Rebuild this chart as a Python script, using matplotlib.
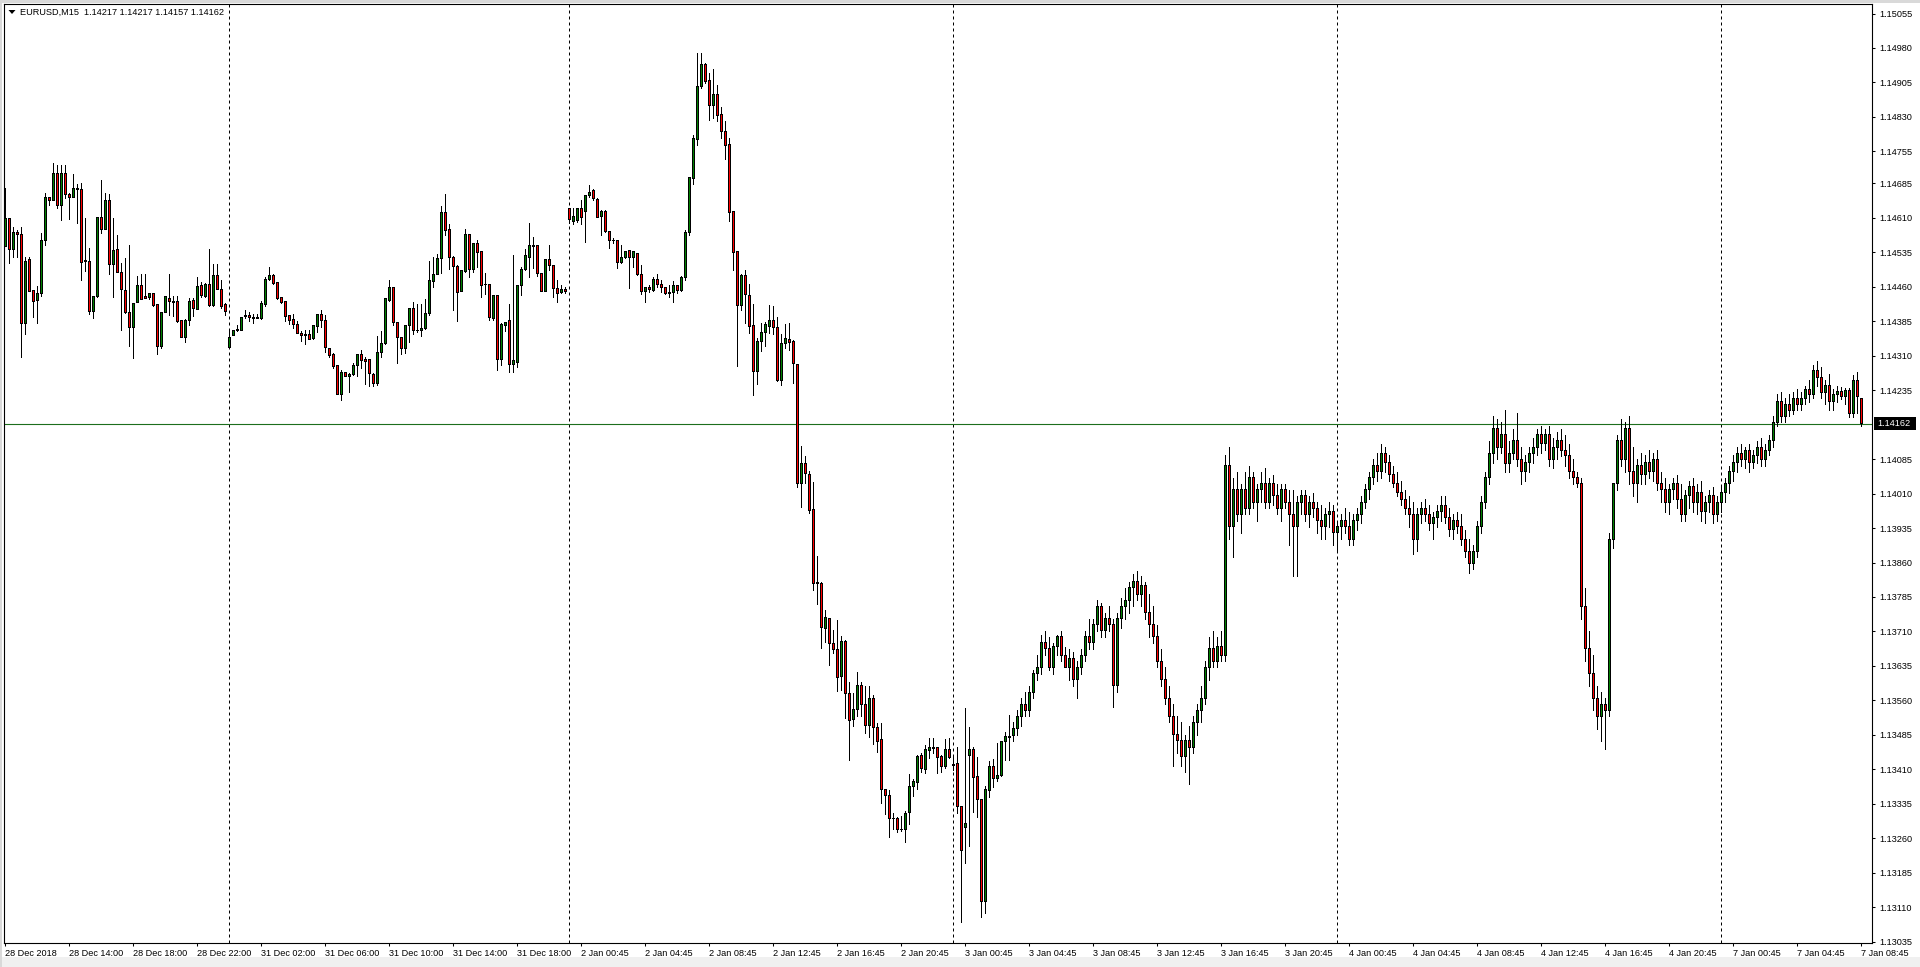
import numpy as np
import matplotlib
matplotlib.use("Agg")
import matplotlib.pyplot as plt
from matplotlib.patches import Rectangle, Polygon

plt.rcParams['font.family'] = ['Liberation Sans', 'DejaVu Sans']

# ---------------- data ----------------
symbol = "EURUSD,M15"
# trading sessions shown on the chart: (day, number of 15-minute bars)
sessions = [("28 Dec", 56), ("31 Dec", 85), ("2 Jan", 96), ("3 Jan", 96), ("4 Jan", 96), ("7 Jan", 36)]

time_label_step = 16
time_labels = ["28 Dec 2018", "28 Dec 14:00", "28 Dec 18:00", "28 Dec 22:00", "31 Dec 02:00",
               "31 Dec 06:00", "31 Dec 10:00", "31 Dec 14:00", "31 Dec 18:00", "2 Jan 00:45",
               "2 Jan 04:45", "2 Jan 08:45", "2 Jan 12:45", "2 Jan 16:45", "2 Jan 20:45",
               "3 Jan 00:45", "3 Jan 04:45", "3 Jan 08:45", "3 Jan 12:45", "3 Jan 16:45",
               "3 Jan 20:45", "4 Jan 00:45", "4 Jan 04:45", "4 Jan 08:45", "4 Jan 12:45",
               "4 Jan 16:45", "4 Jan 20:45", "7 Jan 00:45", "7 Jan 04:45", "7 Jan 08:45"]

price_labels = ["1.15055", "1.14980", "1.14905", "1.14830", "1.14755", "1.14685", "1.14610",
                "1.14535", "1.14460", "1.14385", "1.14310", "1.14235", "1.14085", "1.14010",
                "1.13935", "1.13860", "1.13785", "1.13710", "1.13635", "1.13560", "1.13485",
                "1.13410", "1.13335", "1.13260", "1.13185", "1.13110", "1.13035"]

opens = [
    1.14548, 1.14609, 1.14542, 1.14579, 1.14574, 1.14381, 1.14519, 1.14453, 1.14430, 1.14445,
    1.14560, 1.14655, 1.14649, 1.14707, 1.14637, 1.14707, 1.14662, 1.14655, 1.14675, 1.14672,
    1.14517, 1.14516, 1.14406, 1.14439, 1.14611, 1.14585, 1.14647, 1.14508, 1.14542, 1.14492,
    1.14453, 1.14404, 1.14372, 1.14426, 1.14462, 1.14439, 1.14437, 1.14446, 1.14421, 1.14330,
    1.14405, 1.14435, 1.14429, 1.14429, 1.14386, 1.14350, 1.14386, 1.14431, 1.14411, 1.14462,
    1.14440, 1.14466, 1.14419, 1.14484, 1.14455, 1.14421, 1.14328, 1.14355, 1.14364, 1.14366,
    1.14395, 1.14397, 1.14394, 1.14394, 1.14392, 1.14422, 1.14475, 1.14484, 1.14470, 1.14437,
    1.14428, 1.14397, 1.14388, 1.14378, 1.14359, 1.14357, 1.14357, 1.14347, 1.14373, 1.14399,
    1.14386, 1.14326, 1.14312, 1.14288, 1.14225, 1.14274, 1.14265, 1.14270, 1.14289, 1.14312,
    1.14301, 1.14301, 1.14270, 1.14250, 1.14318, 1.14337, 1.14430, 1.14459, 1.14383, 1.14350,
    1.14325, 1.14375, 1.14412, 1.14365, 1.14365, 1.14370, 1.14401, 1.14471, 1.14487, 1.14522,
    1.14622, 1.14584, 1.14524, 1.14504, 1.14450, 1.14493, 1.14573, 1.14498, 1.14555, 1.14538,
    1.14466, 1.14466, 1.14391, 1.14442, 1.14301, 1.14375, 1.14386, 1.14290, 1.14295, 1.14464,
    1.14497, 1.14524, 1.14549, 1.14549, 1.14490, 1.14450, 1.14519, 1.14506, 1.14457, 1.14447,
    1.14455, 1.14631, 1.14602, 1.14604, 1.14631, 1.14624, 1.14659, 1.14669, 1.14651, 1.14613,
    1.14625, 1.14581, 1.14562, 1.14562, 1.14513, 1.14523, 1.14540, 1.14524, 1.14533, 1.14487,
    1.14450, 1.14459, 1.14452, 1.14477, 1.14465, 1.14459, 1.14446, 1.14448, 1.14462, 1.14452,
    1.14480, 1.14579, 1.14696, 1.14781, 1.14896, 1.14943, 1.14910, 1.14854, 1.14878, 1.14836,
    1.14799, 1.14769, 1.14625, 1.14536, 1.14419, 1.14484, 1.14442, 1.14375, 1.14275, 1.14342,
    1.14360, 1.14373, 1.14387, 1.14372, 1.14257, 1.14336, 1.14346, 1.14342, 1.14291, 1.14031,
    1.14076, 1.14052, 1.13976, 1.13815, 1.13815, 1.13717, 1.13739, 1.13684, 1.13671, 1.13611,
    1.13689, 1.13574, 1.13519, 1.13539, 1.13592, 1.13551, 1.13505, 1.13564, 1.13501, 1.13474,
    1.13366, 1.13352, 1.13303, 1.13302, 1.13279, 1.13279, 1.13315, 1.13372, 1.13381, 1.13439,
    1.13410, 1.13450, 1.13458, 1.13457, 1.13437, 1.13415, 1.13454, 1.13421, 1.13423, 1.13330,
    1.13283, 1.13439, 1.13454, 1.13394, 1.13345, 1.13122, 1.13363, 1.13417, 1.13390, 1.13396,
    1.13470, 1.13482, 1.13483, 1.13498, 1.13525, 1.13552, 1.13538, 1.13578, 1.13618, 1.13632,
    1.13685, 1.13672, 1.13632, 1.13677, 1.13698, 1.13658, 1.13632, 1.13650, 1.13605, 1.13632,
    1.13658, 1.13698, 1.13685, 1.13725, 1.13765, 1.13711, 1.13738, 1.13725, 1.13592, 1.13738,
    1.13765, 1.13778, 1.13805, 1.13818, 1.13791, 1.13811, 1.13751, 1.13725, 1.13698, 1.13645,
    1.13605, 1.13565, 1.13525, 1.13485, 1.13472, 1.13437, 1.13472, 1.13458, 1.13512, 1.13538,
    1.13565, 1.13632, 1.13672, 1.13645, 1.13677, 1.13658, 1.14071, 1.13938, 1.14018, 1.13965,
    1.14018, 1.13978, 1.14045, 1.13991, 1.14018, 1.14031, 1.13991, 1.14031, 1.14005, 1.13978,
    1.14018, 1.13991, 1.13965, 1.13938, 1.13991, 1.14005, 1.13965, 1.13991, 1.13978, 1.13951,
    1.13938, 1.13965, 1.13971, 1.13925, 1.13938, 1.13951, 1.13938, 1.13911, 1.13951, 1.13965,
    1.13991, 1.14018, 1.14045, 1.14071, 1.14058, 1.14098, 1.14078, 1.14051, 1.14031, 1.14012,
    1.13998, 1.13978, 1.13965, 1.13911, 1.13965, 1.13978, 1.13965, 1.13945, 1.13958, 1.13971,
    1.13985, 1.13958, 1.13931, 1.13951, 1.13938, 1.13911, 1.13885, 1.13858, 1.13885, 1.13938,
    1.13991, 1.14045, 1.14098, 1.14151, 1.14111, 1.14138, 1.14076, 1.14098, 1.14125, 1.14085,
    1.14058, 1.14078, 1.14098, 1.14111, 1.14138, 1.14118, 1.14138, 1.14085, 1.14111, 1.14125,
    1.14104, 1.14093, 1.14058, 1.14045, 1.14031, 1.13765, 1.13672, 1.13618, 1.13565, 1.13525,
    1.13552, 1.13538, 1.13911, 1.14031, 1.14125, 1.14085, 1.14151, 1.14058, 1.14031, 1.14071,
    1.14051, 1.14078, 1.14058, 1.14085, 1.14031, 1.14018, 1.13991, 1.14018, 1.14031, 1.13998,
    1.13965, 1.14005, 1.14025, 1.13991, 1.14012, 1.13971, 1.13991, 1.14005, 1.13965, 1.13991,
    1.14012, 1.14031, 1.14058, 1.14078, 1.14098, 1.14085, 1.14104, 1.14078, 1.14093, 1.14111,
    1.14085, 1.14104, 1.14125, 1.14165, 1.14210, 1.14178, 1.14205, 1.14191, 1.14218, 1.14205,
    1.14218, 1.14237, 1.14226, 1.14279, 1.14263, 1.14231, 1.14245, 1.14210, 1.14226, 1.14232,
    1.14221, 1.14235, 1.14185, 1.14257, 1.14217]

highs = [
    1.14675, 1.14609, 1.14590, 1.14584, 1.14590, 1.14524, 1.14524, 1.14453, 1.14462, 1.14578,
    1.14665, 1.14656, 1.14729, 1.14725, 1.14725, 1.14725, 1.14665, 1.14706, 1.14683, 1.14685,
    1.14609, 1.14544, 1.14439, 1.14613, 1.14693, 1.14664, 1.14662, 1.14609, 1.14573, 1.14511,
    1.14522, 1.14551, 1.14424, 1.14484, 1.14487, 1.14487, 1.14446, 1.14446, 1.14421, 1.14406,
    1.14438, 1.14487, 1.14441, 1.14441, 1.14388, 1.14389, 1.14435, 1.14435, 1.14482, 1.14471,
    1.14469, 1.14543, 1.14509, 1.14509, 1.14475, 1.14424, 1.14363, 1.14366, 1.14376, 1.14394,
    1.14410, 1.14405, 1.14402, 1.14402, 1.14430, 1.14482, 1.14503, 1.14487, 1.14470, 1.14439,
    1.14428, 1.14397, 1.14401, 1.14386, 1.14364, 1.14366, 1.14367, 1.14375, 1.14400, 1.14410,
    1.14399, 1.14326, 1.14315, 1.14288, 1.14279, 1.14274, 1.14272, 1.14295, 1.14312, 1.14323,
    1.14307, 1.14304, 1.14272, 1.14354, 1.14364, 1.14434, 1.14475, 1.14459, 1.14383, 1.14350,
    1.14375, 1.14413, 1.14426, 1.14423, 1.14423, 1.14434, 1.14516, 1.14524, 1.14532, 1.14636,
    1.14662, 1.14597, 1.14527, 1.14508, 1.14495, 1.14586, 1.14573, 1.14555, 1.14562, 1.14538,
    1.14490, 1.14466, 1.14442, 1.14442, 1.14382, 1.14383, 1.14422, 1.14529, 1.14464, 1.14504,
    1.14542, 1.14600, 1.14569, 1.14549, 1.14490, 1.14519, 1.14551, 1.14506, 1.14475, 1.14464,
    1.14459, 1.14631, 1.14631, 1.14631, 1.14649, 1.14658, 1.14682, 1.14673, 1.14653, 1.14627,
    1.14627, 1.14581, 1.14566, 1.14562, 1.14551, 1.14538, 1.14540, 1.14537, 1.14533, 1.14508,
    1.14459, 1.14464, 1.14481, 1.14489, 1.14475, 1.14460, 1.14464, 1.14473, 1.14462, 1.14484,
    1.14584, 1.14700, 1.14791, 1.14968, 1.14968, 1.14947, 1.14926, 1.14934, 1.14899, 1.14852,
    1.14821, 1.14783, 1.14625, 1.14536, 1.14488, 1.14496, 1.14466, 1.14423, 1.14348, 1.14381,
    1.14384, 1.14421, 1.14418, 1.14394, 1.14357, 1.14379, 1.14382, 1.14344, 1.14291, 1.14114,
    1.14092, 1.14059, 1.14036, 1.13874, 1.13818, 1.13757, 1.13739, 1.13713, 1.13735, 1.13700,
    1.13691, 1.13601, 1.13577, 1.13622, 1.13601, 1.13592, 1.13591, 1.13572, 1.13510, 1.13510,
    1.13368, 1.13365, 1.13314, 1.13307, 1.13308, 1.13320, 1.13400, 1.13388, 1.13442, 1.13446,
    1.13463, 1.13479, 1.13477, 1.13459, 1.13441, 1.13475, 1.13479, 1.13436, 1.13459, 1.13330,
    1.13543, 1.13503, 1.13458, 1.13437, 1.13345, 1.13374, 1.13429, 1.13432, 1.13468, 1.13471,
    1.13492, 1.13528, 1.13512, 1.13538, 1.13565, 1.13578, 1.13592, 1.13627, 1.13658, 1.13703,
    1.13711, 1.13698, 1.13685, 1.13703, 1.13711, 1.13677, 1.13672, 1.13666, 1.13645, 1.13672,
    1.13711, 1.13738, 1.13738, 1.13778, 1.13772, 1.13751, 1.13765, 1.13738, 1.13751, 1.13783,
    1.13805, 1.13818, 1.13836, 1.13841, 1.13831, 1.13818, 1.13791, 1.13765, 1.13725, 1.13672,
    1.13632, 1.13592, 1.13552, 1.13525, 1.13512, 1.13485, 1.13505, 1.13525, 1.13552, 1.13592,
    1.13645, 1.13698, 1.13711, 1.13698, 1.13711, 1.14093, 1.14111, 1.14045, 1.14058, 1.14031,
    1.14058, 1.14071, 1.14058, 1.14031, 1.14058, 1.14065, 1.14045, 1.14050, 1.14031, 1.14031,
    1.14031, 1.14018, 1.14018, 1.14005, 1.14018, 1.14018, 1.14005, 1.14012, 1.13991, 1.13985,
    1.13978, 1.13991, 1.13985, 1.13951, 1.13965, 1.13978, 1.13971, 1.13965, 1.13978, 1.14005,
    1.14031, 1.14058, 1.14085, 1.14098, 1.14118, 1.14111, 1.14093, 1.14071, 1.14058, 1.14038,
    1.14018, 1.14005, 1.13991, 1.13978, 1.13991, 1.13998, 1.13985, 1.13971, 1.13985, 1.14005,
    1.14005, 1.13978, 1.13965, 1.13971, 1.13965, 1.13931, 1.13911, 1.13898, 1.13951, 1.14005,
    1.14058, 1.14125, 1.14178, 1.14173, 1.14165, 1.14191, 1.14125, 1.14151, 1.14185, 1.14111,
    1.14093, 1.14111, 1.14131, 1.14151, 1.14158, 1.14151, 1.14158, 1.14131, 1.14145, 1.14151,
    1.14138, 1.14118, 1.14085, 1.14058, 1.14045, 1.13805, 1.13711, 1.13658, 1.13592, 1.13578,
    1.13565, 1.13925, 1.14031, 1.14138, 1.14173, 1.14165, 1.14178, 1.14111, 1.14085, 1.14098,
    1.14093, 1.14104, 1.14098, 1.14104, 1.14058, 1.14045, 1.14031, 1.14045, 1.14050, 1.14031,
    1.14018, 1.14038, 1.14045, 1.14031, 1.14038, 1.14005, 1.14018, 1.14025, 1.14005, 1.14025,
    1.14045, 1.14071, 1.14093, 1.14111, 1.14118, 1.14111, 1.14118, 1.14104, 1.14125, 1.14131,
    1.14118, 1.14138, 1.14178, 1.14226, 1.14231, 1.14218, 1.14226, 1.14231, 1.14237, 1.14231,
    1.14245, 1.14258, 1.14290, 1.14298, 1.14285, 1.14258, 1.14271, 1.14237, 1.14245, 1.14243,
    1.14239, 1.14239, 1.14268, 1.14275, 1.14217]

lows = [
    1.14548, 1.14511, 1.14526, 1.14524, 1.14308, 1.14357, 1.14450, 1.14395, 1.14382, 1.14441,
    1.14551, 1.14638, 1.14649, 1.14632, 1.14606, 1.14653, 1.14608, 1.14655, 1.14598, 1.14474,
    1.14495, 1.14400, 1.14393, 1.14439, 1.14578, 1.14585, 1.14487, 1.14439, 1.14492, 1.14366,
    1.14404, 1.14332, 1.14305, 1.14426, 1.14433, 1.14435, 1.14433, 1.14419, 1.14313, 1.14326,
    1.14405, 1.14399, 1.14397, 1.14384, 1.14350, 1.14341, 1.14377, 1.14397, 1.14411, 1.14439,
    1.14439, 1.14419, 1.14419, 1.14455, 1.14415, 1.14399, 1.14326, 1.14355, 1.14363, 1.14366,
    1.14392, 1.14386, 1.14381, 1.14392, 1.14390, 1.14418, 1.14474, 1.14466, 1.14433, 1.14424,
    1.14386, 1.14379, 1.14370, 1.14359, 1.14342, 1.14335, 1.14346, 1.14347, 1.14362, 1.14373,
    1.14318, 1.14308, 1.14284, 1.14226, 1.14214, 1.14265, 1.14232, 1.14268, 1.14267, 1.14283,
    1.14249, 1.14244, 1.14244, 1.14246, 1.14308, 1.14335, 1.14430, 1.14376, 1.14294, 1.14314,
    1.14317, 1.14341, 1.14357, 1.14362, 1.14354, 1.14368, 1.14399, 1.14460, 1.14487, 1.14491,
    1.14573, 1.14498, 1.14410, 1.14386, 1.14450, 1.14493, 1.14482, 1.14493, 1.14503, 1.14439,
    1.14445, 1.14388, 1.14388, 1.14279, 1.14290, 1.14365, 1.14275, 1.14275, 1.14285, 1.14442,
    1.14497, 1.14481, 1.14500, 1.14484, 1.14450, 1.14450, 1.14497, 1.14439, 1.14426, 1.14446,
    1.14447, 1.14600, 1.14597, 1.14602, 1.14597, 1.14558, 1.14656, 1.14648, 1.14611, 1.14573,
    1.14580, 1.14545, 1.14555, 1.14502, 1.14513, 1.14522, 1.14458, 1.14504, 1.14486, 1.14445,
    1.14428, 1.14448, 1.14452, 1.14460, 1.14448, 1.14444, 1.14439, 1.14428, 1.14446, 1.14452,
    1.14475, 1.14573, 1.14684, 1.14769, 1.14892, 1.14904, 1.14823, 1.14827, 1.14820, 1.14785,
    1.14738, 1.14603, 1.14497, 1.14288, 1.14410, 1.14381, 1.14359, 1.14225, 1.14249, 1.14321,
    1.14331, 1.14359, 1.14357, 1.14256, 1.14246, 1.14328, 1.14323, 1.14251, 1.14025, 1.13980,
    1.14034, 1.13968, 1.13800, 1.13769, 1.13675, 1.13686, 1.13638, 1.13662, 1.13581, 1.13582,
    1.13521, 1.13430, 1.13504, 1.13526, 1.13526, 1.13488, 1.13480, 1.13466, 1.13448, 1.13336,
    1.13312, 1.13263, 1.13279, 1.13274, 1.13276, 1.13251, 1.13291, 1.13352, 1.13367, 1.13405,
    1.13402, 1.13435, 1.13446, 1.13401, 1.13405, 1.13412, 1.13435, 1.13408, 1.13315, 1.13078,
    1.13207, 1.13244, 1.13318, 1.13307, 1.13089, 1.13098, 1.13349, 1.13371, 1.13385, 1.13396,
    1.13430, 1.13430, 1.13472, 1.13485, 1.13505, 1.13525, 1.13525, 1.13565, 1.13605, 1.13618,
    1.13658, 1.13626, 1.13618, 1.13658, 1.13645, 1.13632, 1.13605, 1.13592, 1.13565, 1.13618,
    1.13645, 1.13672, 1.13672, 1.13711, 1.13698, 1.13698, 1.13711, 1.13545, 1.13578, 1.13718,
    1.13738, 1.13751, 1.13765, 1.13778, 1.13765, 1.13738, 1.13698, 1.13685, 1.13632, 1.13592,
    1.13552, 1.13512, 1.13418, 1.13445, 1.13418, 1.13405, 1.13378, 1.13445, 1.13485, 1.13512,
    1.13552, 1.13605, 1.13632, 1.13632, 1.13645, 1.13645, 1.13911, 1.13871, 1.13951, 1.13925,
    1.13965, 1.13965, 1.13978, 1.13951, 1.13991, 1.13978, 1.13978, 1.13985, 1.13965, 1.13951,
    1.13978, 1.13898, 1.13831, 1.13831, 1.13965, 1.13951, 1.13938, 1.13958, 1.13925, 1.13911,
    1.13911, 1.13938, 1.13898, 1.13885, 1.13911, 1.13925, 1.13898, 1.13898, 1.13931, 1.13945,
    1.13978, 1.13998, 1.14031, 1.14038, 1.14045, 1.14058, 1.14038, 1.14025, 1.14005, 1.13985,
    1.13965, 1.13938, 1.13878, 1.13885, 1.13945, 1.13951, 1.13931, 1.13911, 1.13938, 1.13951,
    1.13945, 1.13918, 1.13911, 1.13925, 1.13898, 1.13871, 1.13838, 1.13845, 1.13871, 1.13925,
    1.13978, 1.14031, 1.14076, 1.14085, 1.14098, 1.14058, 1.14058, 1.14085, 1.14071, 1.14031,
    1.14038, 1.14058, 1.14076, 1.14093, 1.14098, 1.14104, 1.14071, 1.14065, 1.14085, 1.14091,
    1.14071, 1.14045, 1.14031, 1.14025, 1.13738, 1.13645, 1.13592, 1.13538, 1.13498, 1.13472,
    1.13453, 1.13525, 1.13891, 1.14018, 1.14071, 1.14058, 1.14031, 1.14005, 1.13991, 1.14031,
    1.14031, 1.14045, 1.14038, 1.14018, 1.13991, 1.13971, 1.13965, 1.13998, 1.13978, 1.13951,
    1.13951, 1.13978, 1.13971, 1.13965, 1.13951, 1.13945, 1.13971, 1.13945, 1.13951, 1.13971,
    1.13991, 1.14012, 1.14038, 1.14058, 1.14071, 1.14065, 1.14058, 1.14065, 1.14076, 1.14071,
    1.14071, 1.14093, 1.14111, 1.14158, 1.14165, 1.14165, 1.14178, 1.14183, 1.14191, 1.14191,
    1.14205, 1.14210, 1.14218, 1.14245, 1.14218, 1.14205, 1.14191, 1.14191, 1.14210, 1.14217,
    1.14206, 1.14177, 1.14177, 1.14185, 1.14157]

closes = [
    1.14609, 1.14542, 1.14579, 1.14574, 1.14381, 1.14516, 1.14450, 1.14428, 1.14446, 1.14560,
    1.14655, 1.14649, 1.14707, 1.14637, 1.14707, 1.14661, 1.14655, 1.14675, 1.14672, 1.14513,
    1.14515, 1.14406, 1.14439, 1.14611, 1.14585, 1.14649, 1.14509, 1.14540, 1.14492, 1.14455,
    1.14404, 1.14372, 1.14424, 1.14462, 1.14433, 1.14435, 1.14446, 1.14419, 1.14330, 1.14405,
    1.14438, 1.14428, 1.14427, 1.14384, 1.14350, 1.14386, 1.14429, 1.14413, 1.14460, 1.14442,
    1.14466, 1.14419, 1.14484, 1.14455, 1.14418, 1.14406, 1.14350, 1.14364, 1.14368, 1.14394,
    1.14397, 1.14393, 1.14392, 1.14392, 1.14424, 1.14476, 1.14485, 1.14468, 1.14435, 1.14426,
    1.14395, 1.14386, 1.14379, 1.14359, 1.14354, 1.14354, 1.14346, 1.14375, 1.14400, 1.14386,
    1.14328, 1.14310, 1.14286, 1.14226, 1.14274, 1.14265, 1.14270, 1.14289, 1.14312, 1.14300,
    1.14297, 1.14272, 1.14250, 1.14318, 1.14337, 1.14434, 1.14459, 1.14383, 1.14350, 1.14325,
    1.14375, 1.14413, 1.14365, 1.14366, 1.14370, 1.14401, 1.14473, 1.14487, 1.14522, 1.14622,
    1.14582, 1.14524, 1.14504, 1.14448, 1.14495, 1.14575, 1.14497, 1.14555, 1.14535, 1.14463,
    1.14465, 1.14393, 1.14442, 1.14301, 1.14379, 1.14383, 1.14290, 1.14300, 1.14464, 1.14497,
    1.14529, 1.14549, 1.14548, 1.14488, 1.14450, 1.14519, 1.14506, 1.14457, 1.14446, 1.14455,
    1.14450, 1.14606, 1.14613, 1.14631, 1.14611, 1.14658, 1.14666, 1.14653, 1.14611, 1.14625,
    1.14580, 1.14561, 1.14560, 1.14513, 1.14524, 1.14538, 1.14524, 1.14536, 1.14487, 1.14450,
    1.14459, 1.14455, 1.14477, 1.14465, 1.14459, 1.14446, 1.14448, 1.14462, 1.14451, 1.14481,
    1.14579, 1.14698, 1.14782, 1.14897, 1.14943, 1.14908, 1.14854, 1.14878, 1.14834, 1.14798,
    1.14767, 1.14622, 1.14534, 1.14419, 1.14484, 1.14443, 1.14373, 1.14275, 1.14342, 1.14361,
    1.14377, 1.14386, 1.14371, 1.14257, 1.14336, 1.14348, 1.14339, 1.14293, 1.14031, 1.14076,
    1.14054, 1.13973, 1.13815, 1.13817, 1.13718, 1.13740, 1.13684, 1.13671, 1.13610, 1.13689,
    1.13575, 1.13516, 1.13539, 1.13592, 1.13550, 1.13505, 1.13564, 1.13501, 1.13470, 1.13366,
    1.13352, 1.13303, 1.13302, 1.13279, 1.13278, 1.13314, 1.13373, 1.13384, 1.13437, 1.13412,
    1.13453, 1.13458, 1.13455, 1.13436, 1.13415, 1.13454, 1.13436, 1.13418, 1.13330, 1.13234,
    1.13292, 1.13454, 1.13392, 1.13344, 1.13122, 1.13366, 1.13417, 1.13390, 1.13397, 1.13471,
    1.13482, 1.13479, 1.13498, 1.13525, 1.13552, 1.13538, 1.13578, 1.13618, 1.13632, 1.13685,
    1.13672, 1.13632, 1.13677, 1.13698, 1.13658, 1.13632, 1.13650, 1.13605, 1.13632, 1.13658,
    1.13698, 1.13685, 1.13725, 1.13765, 1.13711, 1.13738, 1.13725, 1.13592, 1.13738, 1.13765,
    1.13778, 1.13805, 1.13818, 1.13791, 1.13811, 1.13751, 1.13725, 1.13698, 1.13645, 1.13605,
    1.13565, 1.13525, 1.13485, 1.13472, 1.13437, 1.13472, 1.13458, 1.13512, 1.13538, 1.13565,
    1.13632, 1.13672, 1.13645, 1.13677, 1.13658, 1.14071, 1.13938, 1.14018, 1.13965, 1.14018,
    1.13978, 1.14045, 1.13991, 1.14018, 1.14031, 1.13991, 1.14031, 1.14005, 1.13978, 1.14018,
    1.13991, 1.13965, 1.13938, 1.13991, 1.14005, 1.13965, 1.13991, 1.13978, 1.13951, 1.13938,
    1.13965, 1.13971, 1.13925, 1.13938, 1.13951, 1.13938, 1.13911, 1.13951, 1.13965, 1.13991,
    1.14018, 1.14045, 1.14071, 1.14058, 1.14098, 1.14078, 1.14051, 1.14031, 1.14012, 1.13998,
    1.13978, 1.13965, 1.13911, 1.13965, 1.13978, 1.13965, 1.13945, 1.13958, 1.13971, 1.13985,
    1.13958, 1.13931, 1.13951, 1.13938, 1.13911, 1.13885, 1.13858, 1.13885, 1.13938, 1.13991,
    1.14045, 1.14098, 1.14151, 1.14111, 1.14138, 1.14076, 1.14098, 1.14125, 1.14085, 1.14058,
    1.14078, 1.14098, 1.14111, 1.14138, 1.14118, 1.14138, 1.14085, 1.14111, 1.14125, 1.14104,
    1.14093, 1.14058, 1.14045, 1.14031, 1.13765, 1.13672, 1.13618, 1.13565, 1.13525, 1.13552,
    1.13538, 1.13911, 1.14031, 1.14125, 1.14085, 1.14151, 1.14058, 1.14031, 1.14071, 1.14051,
    1.14078, 1.14058, 1.14085, 1.14031, 1.14018, 1.13991, 1.14018, 1.14031, 1.13998, 1.13965,
    1.14005, 1.14025, 1.13991, 1.14012, 1.13971, 1.13991, 1.14005, 1.13965, 1.13991, 1.14012,
    1.14031, 1.14058, 1.14078, 1.14098, 1.14085, 1.14104, 1.14078, 1.14093, 1.14111, 1.14085,
    1.14104, 1.14125, 1.14165, 1.14210, 1.14178, 1.14205, 1.14191, 1.14218, 1.14205, 1.14218,
    1.14237, 1.14226, 1.14279, 1.14263, 1.14231, 1.14245, 1.14210, 1.14226, 1.14232, 1.14221,
    1.14235, 1.14185, 1.14257, 1.14221, 1.14162]

# ---------------- style ----------------
BULL = "#008000"
BEAR = "#ff0000"
BID_COLOR = "#1d6e1d"
FS = 6.6

W, H = 1920, 967
fig = plt.figure(figsize=(W / 100, H / 100), dpi=100, facecolor="white")
# MT4-like window edges
fig.patches.append(Rectangle((0, 0), 1, 10 / H, transform=fig.transFigure,
                             fc="#f0f0f0", ec="none", zorder=0))
fig.patches.append(Rectangle((0, 1 - 3 / H), 1, 3 / H, transform=fig.transFigure,
                             fc="#d9d9d9", ec="none", zorder=0))
fig.patches.append(Rectangle((0, 0), 2 / W, 1, transform=fig.transFigure,
                             fc="#d9d9d9", ec="none", zorder=0))

left_px, right_px, top_px, bot_px = 4, 1872, 4, 943
ax = fig.add_axes([left_px / W, (H - bot_px) / H, (right_px - left_px) / W, (bot_px - top_px) / H])
ax.set_facecolor("white")
ylim = (1.130318, 1.150757)
ax.set_xlim(-0.35, 466.65)
ax.set_ylim(*ylim)
px_y = (ylim[1] - ylim[0]) / (bot_px - top_px)   # price per pixel

o = np.array(opens); hi = np.array(highs); lo = np.array(lows); c = np.array(closes)
n = len(o)
assert len(hi) == n and len(lo) == n and len(c) == n
x = np.arange(n)
bull = c >= o
body_top = np.maximum(o, c)
body_bot = np.minimum(o, c)

# wicks
ax.vlines(x, lo, hi, color="black", lw=0.72, zorder=3, antialiased=False)
# black body outline (3 px wide)
ax.bar(x, body_top - body_bot + px_y, bottom=body_bot - 0.5 * px_y, width=0.75,
       color="black", linewidth=0, zorder=4, antialiased=False)
# coloured body interior
inner_h = body_top - body_bot - px_y
has_fill = inner_h > 0
for mask, col in ((bull & has_fill, BULL), (~bull & has_fill, BEAR)):
    ax.bar(x[mask], inner_h[mask], bottom=body_bot[mask] + 0.5 * px_y, width=0.26,
           color=col, linewidth=0, zorder=5, antialiased=False)

# day separators
starts = np.cumsum([s[1] for s in sessions])[:-1]
for s in starts:
    ax.axvline(s, color="black", lw=0.72, ls=(0, (3, 3)), zorder=1)

# bid line
bid = closes[-1]
ax.axhline(bid, color=BID_COLOR, lw=0.8, zorder=2)

# axes ticks
ax.yaxis.tick_right()
ax.set_yticks([float(s) for s in price_labels])
ax.set_yticklabels(price_labels)
ax.tick_params(axis="y", direction="out", length=2.5, width=0.75, pad=3, labelsize=FS, colors="black")

xt = np.arange(0, n, time_label_step)
ax.set_xticks(xt)
ax.set_xticklabels(time_labels[:len(xt)])
for lab in ax.get_xticklabels():
    lab.set_horizontalalignment("left")
ax.tick_params(axis="x", direction="out", length=2.5, width=0.75, pad=1.5, labelsize=FS, colors="black")

for sp in ax.spines.values():
    sp.set_color("black")
    sp.set_linewidth(0.8)

# bid price label box on the price scale
y_disp = ax.transData.transform((0, bid))[1]
yf = y_disp / H
fig.patches.append(Rectangle((1874 / W, yf - 6.5 / H), 42 / W, 13 / H, transform=fig.transFigure,
                             fc="black", ec="none", zorder=5))
fig.text(1877 / W, yf, f"{bid:.5f}", color="white", fontsize=FS, ha="left", va="center", zorder=6)

# header
fig.patches.append(Polygon([(8.5 / W, 1 - 10 / H), (15.5 / W, 1 - 10 / H), (12 / W, 1 - 14 / H)],
                           closed=True, transform=fig.transFigure, fc="black", ec="none", zorder=5))
header = f"{symbol}  {opens[-1]:.5f} {highs[-1]:.5f} {lows[-1]:.5f} {closes[-1]:.5f}"
fig.text(20.5 / W, 1 - 12.5 / H, header, fontsize=FS, ha="left", va="center", color="black")

fig.savefig("out.png", dpi=100, facecolor=fig.get_facecolor())
